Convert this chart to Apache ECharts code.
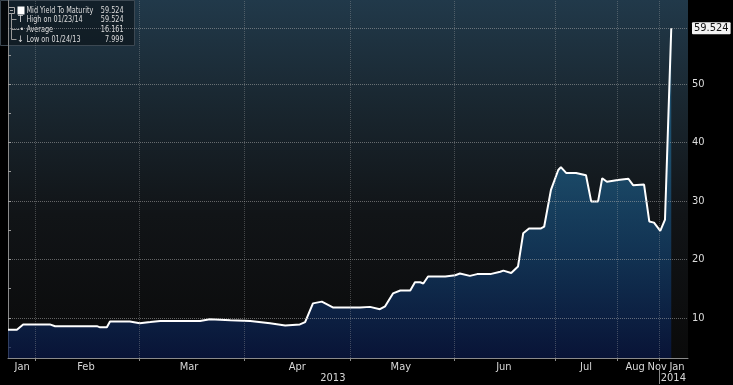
<!DOCTYPE html>
<html>
<head>
<meta charset="utf-8">
<script src="https://cdn.jsdelivr.net/npm/echarts@6/dist/echarts.min.js"></script>
<style>
html,body{margin:0;padding:0;background:#000;}
#chart{width:733px;height:385px;}
</style>
</head>
<body>
<div id="chart"></div>
<script>
const obsIndex = [0, 1.7, 2.9, 8.0, 9.0, 17.0, 17.6, 18.9, 19.5, 23.3, 25.2, 27.2, 29.1, 36.7, 38.6, 42.5, 46.3, 50.1, 53.0, 55.8, 56.8, 58.3, 60.0, 62.1, 67.3, 69.2, 71.1, 72.1, 73.6, 75.0, 76.9, 77.8, 78.8, 79.4, 80.3, 83.6, 85.5, 86.4, 88.3, 89.7, 92.2, 94.1, 94.7, 96.2, 97.5, 98.5, 99.6, 101.9, 102.5, 103.8, 105.2, 105.7, 106.7, 108.6, 110.5, 111.5, 112.8, 113.6, 114.5, 116.6, 118.6, 119.5, 121.6, 122.6, 123.5, 124.7, 125.6, 126.8];
const yieldValues = [8.0, 8.0, 8.9, 8.9, 8.6, 8.6, 8.4, 8.4, 9.4, 9.4, 9.1, 9.3, 9.5, 9.5, 9.8, 9.6, 9.5, 9.1, 8.7, 8.9, 9.3, 12.5, 12.8, 11.8, 11.8, 11.9, 11.5, 12.0, 14.2, 14.7, 14.7, 16.1, 16.1, 15.9, 17.1, 17.1, 17.3, 17.6, 17.2, 17.5, 17.5, 17.9, 18.1, 17.7, 18.8, 24.5, 25.3, 25.3, 25.6, 31.9, 35.3, 35.8, 34.8, 34.8, 34.4, 29.9, 29.9, 33.9, 33.3, 33.6, 33.8, 32.7, 32.8, 26.5, 26.3, 24.9, 26.8, 59.524];

// Month boundaries (in observation index) and label placement
const monthBoundaries = [5.2, 25.1, 45.1, 65.4, 85.3, 104.6, 116.4, 124.5];
const monthLabelPos = [2.7, 14.9, 34.6, 55.3, 75.1, 94.8, 110.5, 119.9, 124.1, 127.9];
const monthLabelNames = ['Jan', 'Feb', 'Mar', 'Apr', 'May', 'Jun', 'Jul', 'Aug', 'Nov', 'Jan'];
const yearLabelPos = [62.1, 127.2];
const yearLabelNames = ['2013', '2014'];
const yearBoundary = [124.5];

// Y axis ticks
const yTickLabels = [10, 20, 30, 40, 50];
const yTicks = [5, 10, 15, 20, 25, 30, 35, 40, 45, 50, 55];

// Legend stats
const legendNames = ['Mid Yield To Maturity', 'High on 01/23/14', 'Average', 'Low on 01/24/13'];
const legendValues = ['59.524', '59.524', '16.161', '7.999'];
const lastValue = 59.524;

function lookup(posArr, nameArr, v) {
  for (let i = 0; i < posArr.length; i++) if (Math.abs(posArr[i] - v) < 1e-6) return nameArr[i];
  return '';
}

const chart = echarts.init(document.getElementById('chart'));
const FONT = '"Liberation Sans Narrow", "DejaVu Sans Condensed", sans-serif';
const gridLineStyle = { type: 'dotted', color: 'rgba(170,170,170,0.55)', width: 1 };

const markData = [];
monthBoundaries.forEach(v => markData.push({ xAxis: v, lineStyle: { type: 'dotted', color: 'rgba(170,170,170,0.35)', width: 1 }, label: { show: false } }));
yTickLabels.forEach(v => markData.push({ yAxis: v, lineStyle: gridLineStyle, label: { show: false } }));
markData.push({
  yAxis: lastValue, lineStyle: gridLineStyle,
  label: {
    show: true, position: 'end', formatter: String(lastValue), distance: 4,
    backgroundColor: '#f2f2f2', color: '#111', padding: [1, 2, 0, 2], fontSize: 11, fontFamily: FONT, borderRadius: 1
  }
});

const SX = 0.8;
const legendChildren = [
  { type: 'rect', shape: { x: 3, y: 2, width: 134, height: 45 }, style: { fill: 'rgba(8,12,16,0.55)', stroke: '#3c4852', lineWidth: 1 } },
  { type: 'rect', shape: { x: 11, y: 9, width: 6, height: 6 }, style: { fill: 'none', stroke: '#aaa', lineWidth: 1 } },
  { type: 'line', shape: { x1: 12.5, y1: 12, x2: 15.5, y2: 12 }, style: { stroke: '#aaa' } },
  { type: 'line', shape: { x1: 14, y1: 15, x2: 14, y2: 41 }, style: { stroke: '#999', lineWidth: 1 } },
  { type: 'line', shape: { x1: 14, y1: 21, x2: 19, y2: 21 }, style: { stroke: '#999' } },
  { type: 'line', shape: { x1: 14, y1: 31, x2: 19, y2: 31 }, style: { stroke: '#999' } },
  { type: 'line', shape: { x1: 14, y1: 41, x2: 19, y2: 41 }, style: { stroke: '#999' } },
  { type: 'rect', shape: { x: 20, y: 8, width: 7, height: 8 }, style: { fill: '#ffffff' } },
  { type: 'text', x: 23, y: 21, style: { text: 'T', fill: '#ddd', font: '9px ' + FONT, align: 'center', verticalAlign: 'middle' } },
  { type: 'text', x: 23, y: 31, style: { text: '-•', fill: '#ddd', font: '9px ' + FONT, align: 'center', verticalAlign: 'middle' } },
  { type: 'text', x: 23, y: 41, style: { text: '↓', fill: '#ddd', font: '9px ' + FONT, align: 'center', verticalAlign: 'middle' } }
];
const legendY = [12, 21, 31, 41];
legendNames.forEach((n, i) => {
  legendChildren.push({ type: 'text', x: 29, y: legendY[i], scaleX: SX, style: { text: n, fill: '#dcdcdc', font: '9px ' + FONT, verticalAlign: 'middle' } });
  legendChildren.push({ type: 'text', x: 126, y: legendY[i], scaleX: SX, style: { text: legendValues[i], fill: '#dcdcdc', font: '9px ' + FONT, align: 'right', verticalAlign: 'middle' } });
});

chart.setOption({
  animation: false,
  backgroundColor: '#000',
  grid: {
    left: 8, right: 45, top: 0, bottom: 27, show: true, borderWidth: 0,
    backgroundColor: {
      type: 'linear', x: 0, y: 0, x2: 0, y2: 1,
      colorStops: [
        { offset: 0, color: '#21394a' },
        { offset: 0.3, color: '#19262f' },
        { offset: 0.6, color: '#111417' },
        { offset: 1, color: '#0a0a0a' }
      ]
    }
  },
  xAxis: [
    {
      type: 'value', min: 0, max: 130, position: 'bottom',
      axisLine: { show: true, lineStyle: { color: '#8a8a8a', width: 1 } },
      axisTick: { show: true, customValues: monthBoundaries, length: 3, lineStyle: { color: '#8a8a8a' } },
      axisLabel: {
        customValues: monthLabelPos, margin: 4, color: '#d8d8d8', fontSize: 11, fontFamily: FONT,
        formatter: v => lookup(monthLabelPos, monthLabelNames, v)
      },
      splitLine: { show: false }
    },
    {
      type: 'value', min: 0, max: 130, position: 'bottom', offset: 12,
      axisLine: { show: false },
      axisTick: { show: true, customValues: yearBoundary, length: 14, lineStyle: { color: '#8a8a8a' } },
      axisLabel: {
        customValues: yearLabelPos, margin: 3, color: '#d8d8d8', fontSize: 11, fontFamily: FONT,
        formatter: v => lookup(yearLabelPos, yearLabelNames, v)
      },
      splitLine: { show: false }
    }
  ],
  yAxis: {
    type: 'value', position: 'right', min: 3.16, max: 64.36,
    axisLine: { show: true, lineStyle: { color: '#8a8a8a', width: 1 } },
    axisTick: { show: true, customValues: yTicks, length: 3, lineStyle: { color: '#9a9a9a' } },
    axisLabel: { customValues: yTickLabels, margin: 4, color: '#dcdcdc', fontSize: 11, fontFamily: FONT },
    splitLine: { show: false }
  },
  series: [{
    type: 'line',
    data: obsIndex.map((x, i) => [x, yieldValues[i]]),
    symbol: 'none',
    lineStyle: { color: '#ffffff', width: 2 },
    areaStyle: {
      origin: 'start',
      color: {
        type: 'linear', global: true, x: 0, y: 160, x2: 0, y2: 358,
        colorStops: [
          { offset: 0, color: '#1f6088' },
          { offset: 0.5, color: '#123f6c' },
          { offset: 1, color: '#08184a' }
        ]
      }
    },
    markLine: { silent: true, symbol: 'none', animation: false, data: markData },
    z: 3
  }],
  graphic: [{ type: 'group', left: 0, top: 0, z: 100, children: legendChildren }]
});
</script>
</body>
</html>
